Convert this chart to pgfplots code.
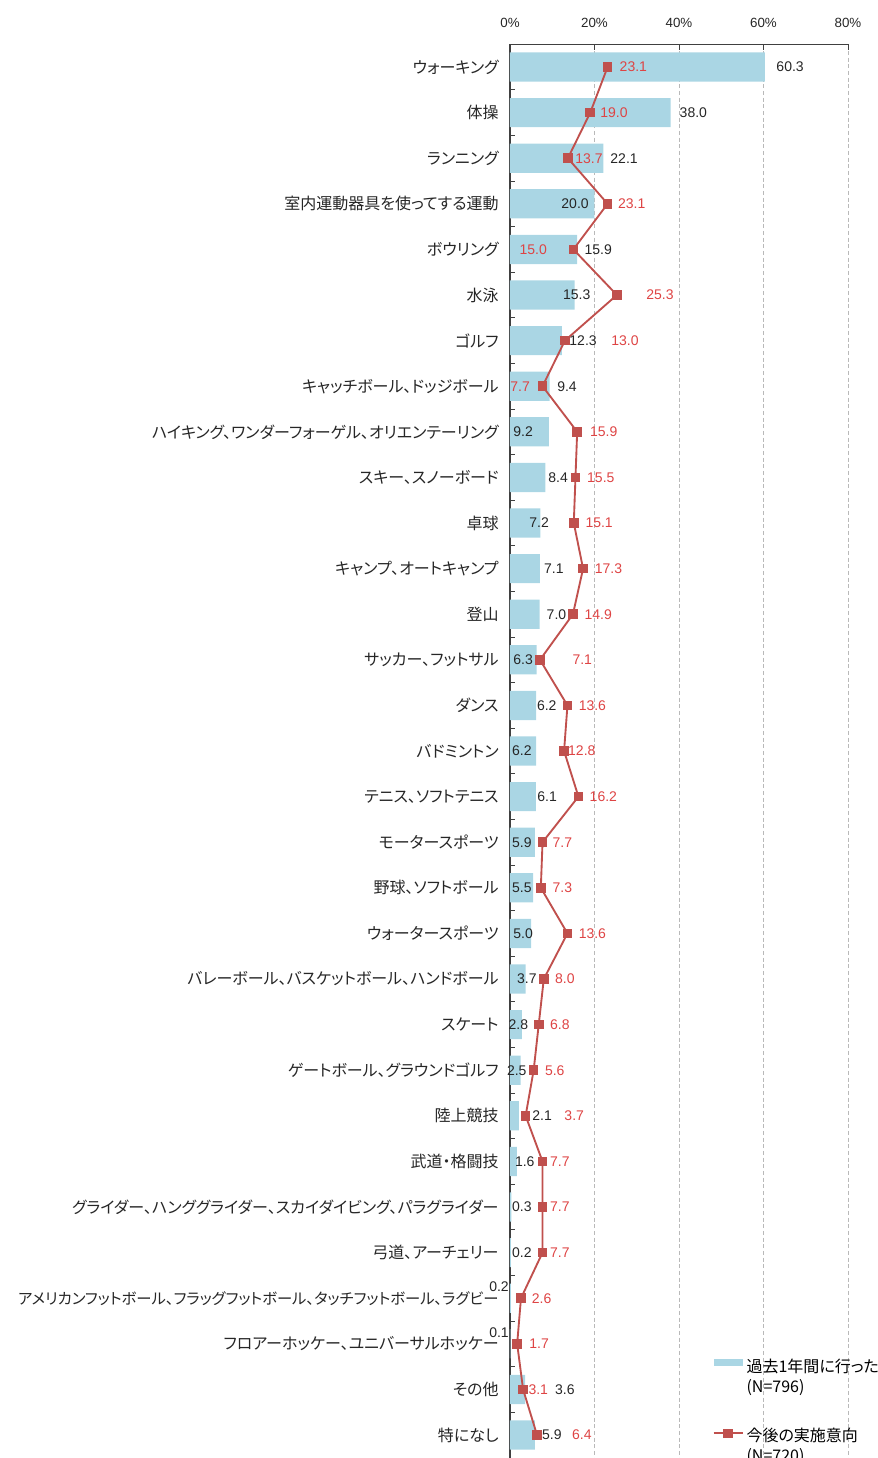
\documentclass[border=0pt]{standalone}
\usepackage{pgfplots}
\pgfplotsset{compat=1.18}
\usepackage{pgfplotstable}
\usepackage{fontspec}
\setmainfont{Noto Sans CJK JP}
\newfontfamily\jpfont[RawFeature=+palt]{Noto Sans CJK JP}
\newfontfamily\numfont{Liberation Sans}
\definecolor{barblue}{RGB}{170,214,228}
\definecolor{linered}{RGB}{192,80,77}
\definecolor{labred}{RGB}{222,68,68}

% y = row (1 = top), bar = past year, line = intention
\pgfplotstableread{
y bar line
1 60.3 23.1
2 38.0 19.0
3 22.1 13.7
4 20.0 23.1
5 15.9 15.0
6 15.3 25.3
7 12.3 13.0
8 9.4 7.7
9 9.2 15.9
10 8.4 15.5
11 7.2 15.1
12 7.1 17.3
13 7.0 14.9
14 6.3 7.1
15 6.2 13.6
16 6.2 12.8
17 6.1 16.2
18 5.9 7.7
19 5.5 7.3
20 5.0 13.6
21 3.7 8.0
22 2.8 6.8
23 2.5 5.6
24 2.1 3.7
25 1.6 7.7
26 0.3 7.7
27 0.2 7.7
28 0.2 2.6
29 0.1 1.7
30 3.6 3.1
31 5.9 6.4
}\data

% label positions (x in %), bar labels black, line labels red
\pgfplotstableread{
y by bx bt lx lt
1 1 66.3 60.3 29.2 23.1
2 2 43.4 38.0 24.6 19.0
3 3 27.0 22.1 18.7 13.7
4 4 15.4 20.0 28.8 23.1
5 5 20.9 15.9 5.5 15.0
6 6 15.8 15.3 35.5 25.3
7 7 17.3 12.3 27.2 13.0
8 8 13.5 9.4 2.4 7.7
9 9 3.1 9.2 22.2 15.9
10 10 11.4 8.4 21.5 15.5
11 11 6.9 7.2 21.1 15.1
12 12 10.4 7.1 23.3 17.3
13 13 11.0 7.0 20.9 14.9
14 14 3.1 6.3 17.1 7.1
15 15 8.7 6.2 19.5 13.6
16 16 2.8 6.2 17.0 12.8
17 17 8.8 6.1 22.1 16.2
18 18 2.8 5.9 12.4 7.7
19 19 2.8 5.5 12.4 7.3
20 20 3.1 5.0 19.5 13.6
21 21 4.0 3.7 13.0 8.0
22 22 2.0 2.8 11.8 6.8
23 23 1.6 2.5 10.6 5.6
24 24 7.6 2.1 15.2 3.7
25 25 3.5 1.6 11.8 7.7
26 26 2.8 0.3 11.8 7.7
27 27 2.8 0.2 11.8 7.7
28 27.75 -2.6 0.2 7.5 2.6
29 28.75 -2.6 0.1 6.9 1.7
30 30 13.0 3.6 6.7 3.1
31 31 9.9 5.9 17.0 6.4
}\labels

\begin{document}
\begin{tikzpicture}
\begin{axis}[
    scale only axis,
    width=253.5pt,
    height=1060.2pt,
    xmin=0, xmax=80,
    ymin=0.5, ymax=31.5,
    y dir=reverse,
    axis x line*=top,
    axis y line*=left,
    clip=false,
    xtick={0,20,40,60,80},
    xticklabels={0\%,20\%,40\%,60\%,80\%},
    minor xtick={20,40,60,80},
    ytick={1,...,31},
    yticklabels={ウォーキング,体操,ランニング,室内運動器具を使ってする運動,ボウリング,水泳,ゴルフ,キャッチボール、ドッジボール,ハイキング、ワンダーフォーゲル、オリエンテーリング,スキー、スノーボード,卓球,キャンプ、オートキャンプ,登山,サッカー、フットサル,ダンス,バドミントン,テニス、ソフトテニス,モータースポーツ,野球、ソフトボール,ウォータースポーツ,バレーボール、バスケットボール、ハンドボール,スケート,ゲートボール、グラウンドゴルフ,陸上競技,武道・格闘技,グライダー、ハンググライダー、スカイダイビング、パラグライダー,弓道、アーチェリー,{\fontsize{11.5}{14}\selectfont アメリカンフットボール、フラッグフットボール、タッチフットボール、ラグビー},フロアーホッケー、ユニバーサルホッケー,その他,特になし},
    minor y tick num=1,
    major tick length=0pt,
    minor tick length=4pt,
    tick align=inside,
    xmajorgrids,
    major grid style={densely dashed, gray!55, line width=0.6pt},
    axis line style={black!75, line width=0.8pt},
    tick style={black!75, line width=0.6pt},
    xticklabel style={font=\numfont\fontsize{10}{12}\selectfont, text=black!85, yshift=9pt},
    yticklabel style={font=\jpfont\fontsize{12}{14}\selectfont, text=black!85, xshift=-5pt},
    legend cell align=left,
    legend style={at={(0.587,0.074)}, anchor=north west, draw=none, fill=none,
        font=\jpfont\fontsize{12}{15}\selectfont, cells={align=left}, row sep=21pt},
]
\addplot[xbar, bar width=0.64, fill=barblue, draw=none,
    legend image code/.code={\fill[barblue] (0pt,8pt) rectangle (22pt,13pt);}]
    table[x=bar, y=y] {\data};
\addlegendentry{過去1年間に行った\\(N=796)}
\addplot[color=linered, line width=1.4pt, mark=square*, mark size=2.9pt,
    legend image code/.code={\draw[linered, line width=1.4pt, mark=square*, mark size=2.9pt, mark repeat=2, mark phase=2] plot coordinates {(0pt,9pt) (11pt,9pt) (22pt,9pt)};}]
    table[x=line, y=y] {\data};
\addlegendentry{今後の実施意向\\(N=720)}
\addplot[draw=none, mark=none, forget plot, nodes near coords, point meta=explicit symbolic,
    every node near coord/.style={anchor=center, font=\numfont\fontsize{10.5}{12}\selectfont, text=black!85}]
    table[x=bx, y=by, meta=bt] {\labels};
\addplot[draw=none, mark=none, forget plot, nodes near coords, point meta=explicit symbolic,
    every node near coord/.style={anchor=center, font=\numfont\fontsize{10.5}{12}\selectfont, text=labred}]
    table[x=lx, y=y, meta=lt] {\labels};
\end{axis}
\pgfresetboundingbox
\path[use as bounding box] (-382.5pt,-0.15pt) rectangle (275.25pt,1093.35pt);
\end{tikzpicture}
\end{document}
